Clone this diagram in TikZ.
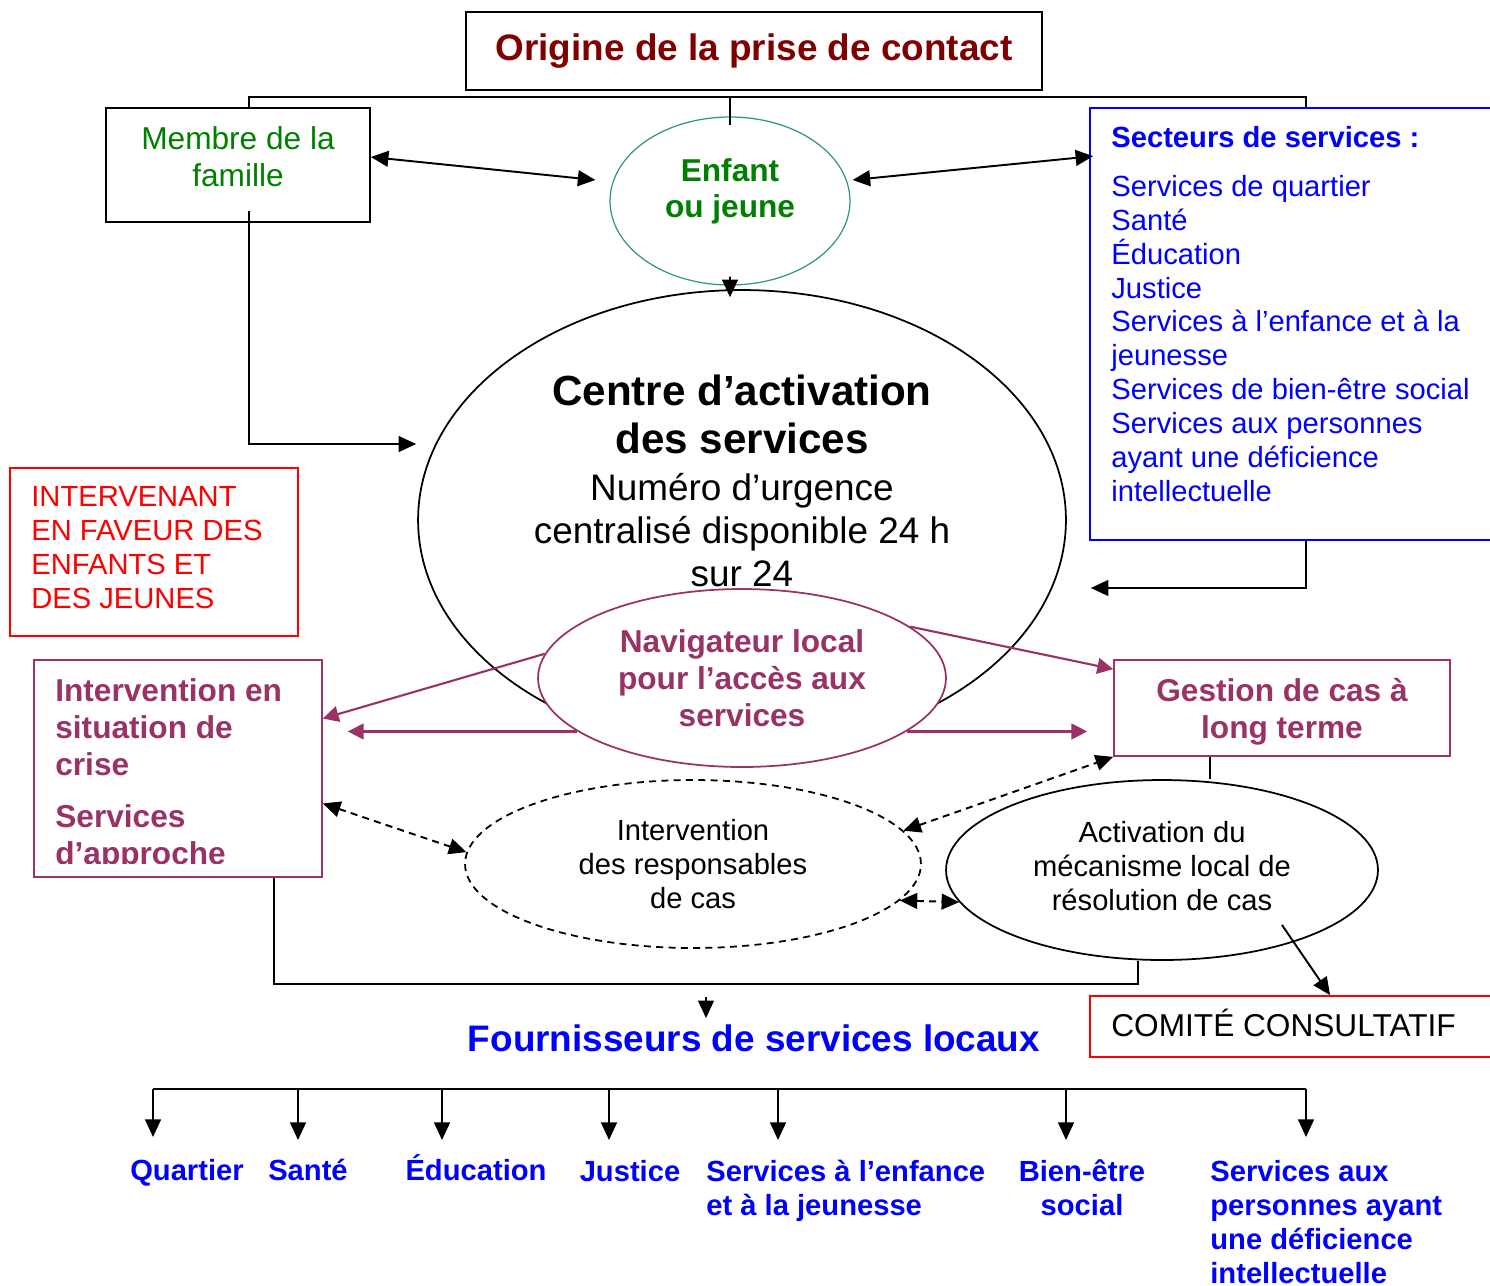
\documentclass[tikz,border=0pt]{standalone}
\usepackage{fontspec}
\setmainfont{Liberation Sans}
\usetikzlibrary{positioning, arrows.meta, shapes.geometric}
\definecolor{DarkRed}{RGB}{128,0,0}
\definecolor{LeafGreen}{RGB}{0,128,0}
\definecolor{SeaGreen}{RGB}{51,153,102}
\definecolor{PureBlue}{RGB}{0,0,255}
\definecolor{AlertRed}{RGB}{255,0,0}
\definecolor{Plum}{RGB}{153,51,102}
\newcommand{\diagsmall}{\fontsize{16.6}{19.3}\selectfont}
\newcommand{\diagmid}{\fontsize{18}{21}\selectfont}
\newcommand{\diaglarge}{\fontsize{21}{24.5}\selectfont}
\newcommand{\diagtitle}{\fontsize{24}{27.3}\selectfont}

\begin{document}
\begin{tikzpicture}[x=0.02cm, y=-0.02cm, every node/.style={inner sep=0pt},
    box/.style={draw, rectangle, line width=1pt},
    oval/.style={draw, ellipse, line width=1pt},
    arr/.style={-{Triangle[length=10pt,width=9pt]}, line width=1.1pt},
    darr/.style={{Triangle[length=10pt,width=9pt]}-{Triangle[length=10pt,width=9pt]}, line width=1.1pt},
    dasharr/.style={darr, dash pattern=on 4pt off 3pt},
    parr/.style={-{Triangle[length=9pt,width=9pt]}, draw=Plum, fill=Plum, line width=1.2pt}]
    \useasboundingbox (0,0) rectangle (1490,1285);

    % Top
    \node[box, minimum width=11.52cm, minimum height=1.56cm, font=\diaglarge\bfseries, text=DarkRed] (origine) at (754,51) {Origine de la prise de contact};

    \node[box, minimum width=5.28cm, minimum height=2.28cm, align=center, font=\diagmid, text=LeafGreen, text depth=9.8pt] (membre) at (238,165) {Membre de la\\famille};

    \node[draw=SeaGreen, ellipse, line width=0.7pt, minimum width=4.8cm, minimum height=3.36cm, align=center, font=\diagmid\bfseries, text=LeafGreen, text depth=14.8pt] (enfant) at (730,201) {Enfant\\ou jeune};

    \node[box, draw=PureBlue, minimum width=8.4cm, minimum height=8.64cm] (secteurs) at (1300,324) {};
    \node[anchor=north west, align=left, font=\diagsmall, text=PureBlue] (secteurstxt) at (1111,126) {\textbf{Secteurs de services :}\\[8.5pt]Services de quartier\\Santé\\Éducation\\Justice\\Services à l’enfance et à la\\jeunesse\\Services de bien-être social\\Services aux personnes\\ayant une déficience\\intellectuelle};

    % Centre
    \node[oval, minimum width=12.96cm, minimum height=9.2cm, align=center, font=\diaglarge, text depth=45pt] (centre) at (742,520) {{\diagtitle\bfseries Centre d’activation}\\[2.8pt]{\diagtitle\bfseries des services}\\[2.2pt]Numéro d’urgence\\centralisé disponible 24 h\\sur 24};

    \node[box, draw=AlertRed, minimum width=5.76cm, minimum height=3.36cm] (intervenant) at (154,552) {};
    \node[anchor=north west, align=left, font=\diagsmall, text=AlertRed] (intervenanttxt) at (31,486) {INTERVENANT\\EN FAVEUR DES\\ENFANTS ET\\DES JEUNES};

    \node[box, draw=Plum, minimum width=5.76cm, minimum height=4.34cm] (crise) at (178,768.5) {};
    \begin{scope}
        \clip (34,600) rectangle (322,863);
        \node[anchor=north west, align=left, font=\diagmid\bfseries, text=Plum] (crisetxt) at (55,678) {Intervention en\\situation de\\crise\\[9pt]Services\\d’approche};
    \end{scope}

    \node[draw=Plum, ellipse, fill=white, line width=1pt, minimum width=8.16cm, minimum height=3.56cm, align=center, font=\diagmid\bfseries, text=Plum] (nav) at (742,678) {Navigateur local\\pour l’accès aux\\services};

    \node[box, draw=Plum, minimum width=6.72cm, minimum height=1.92cm, align=center, font=\diagmid\bfseries, text=Plum, text depth=0pt] (gestion) at (1282,708) {Gestion de cas à\\long terme};

    \node[draw, ellipse, line width=1pt, dash pattern=on 4pt off 3pt, minimum width=9.12cm, minimum height=3.36cm, align=center, font=\diagsmall] (interv) at (693,864) {Intervention\\des responsables\\de cas};

    \node[oval, minimum width=8.64cm, minimum height=3.6cm, align=center, font=\diagsmall, text depth=4.5pt] (activ) at (1162,870) {Activation du\\mécanisme local de\\résolution de cas};

    \node[box, draw=AlertRed, minimum width=8.4cm, minimum height=1.22cm] (comite) at (1300,1026.5) {};
    \node[anchor=west, font=\diagmid] (comitetxt) at (1111,1023) {COMITÉ CONSULTATIF};

    % Bottom
    \node[font=\diaglarge\bfseries, text=PureBlue] (four) at (754,1038) {Fournisseurs de services locaux};

    \node[font=\diagsmall\bfseries, text=PureBlue] (quartier) at (187,1173) {Quartier};
    \node[font=\diagsmall\bfseries, text=PureBlue] (sante) at (308,1170) {Santé};
    \node[font=\diagsmall\bfseries, text=PureBlue] (education) at (476,1168) {Éducation};
    \node[font=\diagsmall\bfseries, text=PureBlue] (justice) at (630,1171) {Justice};
    \node[anchor=north west, align=left, font=\diagsmall\bfseries, text=PureBlue] (enfance) at (706,1160) {Services à l’enfance\\et à la jeunesse};
    \node[anchor=north, align=center, font=\diagsmall\bfseries, text=PureBlue] (bienetre) at (1082,1159) {Bien-être\\social};
    \node[anchor=north west, align=left, font=\diagsmall\bfseries, text=PureBlue] (deficience) at (1210,1160) {Services aux\\personnes ayant\\une déficience\\intellectuelle};

    % Connectors
    \coordinate (bar) at (730,97);
    \draw[line width=1.1pt] ([xshift=0.22cm]membre.north) |- (bar) -| ([xshift=0.12cm]secteurs.north);
    \draw[line width=1pt] (bar) -- ([yshift=-0.18cm]enfant.north);

    \draw[darr] ([yshift=0.16cm]membre.east) -- ([xshift=-0.28cm,yshift=0.42cm]enfant.west);
    \draw[darr] ([xshift=0.04cm,yshift=0.42cm]enfant.east) -- ([xshift=0.08cm,yshift=-0.98cm]secteurs.north west);
    \draw[arr] ([yshift=0.18cm]enfant.south) -- ([xshift=-0.24cm,yshift=-0.16cm]centre.north);
    \draw[arr] ([xshift=0.22cm,yshift=0.24cm]membre.south) |- ([xshift=-0.02cm,yshift=1.52cm]centre.west);
    \draw[arr] ([xshift=0.12cm]secteurs.south) |- ([xshift=0.48cm,yshift=-1.36cm]centre.east);

    \draw[parr] (nav.173) -- ([yshift=1cm]crise.east);
    \draw[parr] (nav.198) -- ([xshift=0.5cm]crise.east |- nav.198);
    \draw[parr] (nav.17) -- ([yshift=-0.2cm]gestion.north west);
    \draw[parr] (nav.-18) -- ([xshift=-0.52cm]gestion.west |- nav.-18);

    \draw[line width=1pt] ([xshift=-1.44cm]gestion.south) -- ([xshift=-1.44cm]gestion.south |- activ.north);
    \draw[dasharr] ([yshift=-0.7cm]crise.east) -- (interv.177);
    \draw[dasharr] (interv.9) -- (gestion.south west);
    \draw[dasharr] (interv.-10) -- (activ.189);
    \draw[arr] ([xshift=2.4cm,yshift=-1.1cm]activ.center) -- ([xshift=0.6cm]comite.north);

    \coordinate (botbar) at (706,984);
    \draw[line width=1.1pt] ([xshift=1.92cm]crise.south) |- (botbar) -| ([xshift=-0.48cm]activ.south);
    \draw[arr] ([yshift=-0.26cm]botbar) -- ([yshift=0.12cm]botbar |- four.north);

    \foreach \n/\x/\e in {a/153/1137, b/298/1140, c/442/1140, d/609/1140, e/778/1140, f/1066/1140, g/1306/1137} {
        \coordinate (bar\n) at (\x,1089);
        \coordinate (tip\n) at (\x,\e);
        \draw[arr] (bar\n) -- (tip\n);
    }
    \draw[line width=1.1pt] (bara) -- (barg);
\end{tikzpicture}
\end{document}
